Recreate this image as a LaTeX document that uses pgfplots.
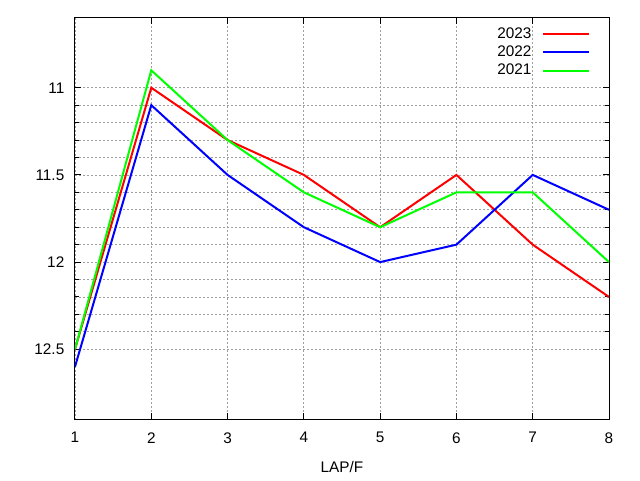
\documentclass[border=0pt]{standalone}
\usepackage{pgfplots}
\pgfplotsset{compat=1.18}
\usepackage{fontspec}
\setmainfont{Liberation Sans}
\definecolor{gpred}{RGB}{255,0,0}
\definecolor{gpblue}{RGB}{0,0,255}
\definecolor{gpgreen}{RGB}{0,255,0}
\newcommand{\gpfont}{\fontsize{11.5}{13}\selectfont}
\begin{document}
\gpfont
\begin{tikzpicture}
\begin{axis}[
  scale only axis,
  width=400.5pt, height=300.75pt,
  xmin=1, xmax=8, ymin=10.6, ymax=12.9,
  y dir=reverse,
  xtick={1,2,3,4,5,6,7,8},
  ytick={11,11.5,12,12.5},
  minor y tick num=4,
  xmajorgrids, ymajorgrids, yminorgrids,
  grid style={gray!75, dash pattern=on 1.5pt off 1.5pt, line width=0.6pt},
  major tick length=4.5pt, minor tick length=3pt,
  tick style={black, line width=0.75pt},
  axis line style={line width=0.75pt},
  /pgf/number format/assume math mode=true,
  ticklabel style={font=\gpfont},
  yticklabel style={xshift=-4pt},
  xticklabel style={yshift=-6pt},
  xlabel={LAP/F},
  xlabel style={font=\gpfont, yshift=-6pt},
  legend plot pos=right,
  legend cell align=right,
  legend style={draw=none, fill=none, at={(1,1)}, anchor=north east, xshift=-11pt, yshift=-3pt,
    font=\gpfont, row sep=0pt, column sep=6pt},
  legend image code/.code={\draw[mark repeat=2,mark phase=2,#1] plot coordinates {(0pt,0pt) (17pt,0pt) (34.5pt,0pt)};},
]
\addplot[color=gpred, line width=1.5pt] coordinates {(1,12.5) (2,11.0) (3,11.3) (4,11.5) (5,11.8) (6,11.5) (7,11.9) (8,12.2)};
\addlegendentry{2023}
\addplot[color=gpblue, line width=1.5pt] coordinates {(1,12.6) (2,11.1) (3,11.5) (4,11.8) (5,12.0) (6,11.9) (7,11.5) (8,11.7)};
\addlegendentry{2022}
\addplot[color=gpgreen, line width=1.5pt] coordinates {(1,12.5) (2,10.9) (3,11.3) (4,11.6) (5,11.8) (6,11.6) (7,11.6) (8,12.0)};
\addlegendentry{2021}
\end{axis}
\path[use as bounding box] ([shift={(-56.25pt,-45.75pt)}]current axis.south west) rectangle ([shift={(23.25pt,13.5pt)}]current axis.north east);
\end{tikzpicture}
\end{document}
